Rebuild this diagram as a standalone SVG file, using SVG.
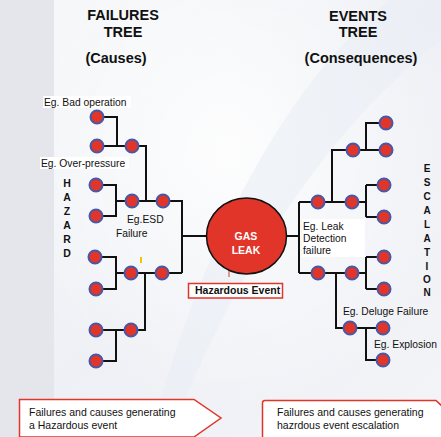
<svg xmlns="http://www.w3.org/2000/svg" width="441" height="437" viewBox="0 0 441 437">
<defs>
<linearGradient id="bg" x1="0" y1="0" x2="1" y2="1">
<stop offset="0" stop-color="#f7f8fa"/>
<stop offset="0.5" stop-color="#eef0f5"/>
<stop offset="1" stop-color="#f3f4f8"/>
</linearGradient>
<radialGradient id="glow" cx="0.45" cy="0.35" r="0.6">
<stop offset="0" stop-color="#ffffff" stop-opacity="0.9"/>
<stop offset="1" stop-color="#ffffff" stop-opacity="0"/>
</radialGradient>
</defs>
<style>
.ln{fill:none;stroke:#111;stroke-width:2}
.nd{fill:#e2352a;stroke:#4658a8;stroke-width:2}
.t{font-family:"Liberation Sans",Arial,sans-serif;fill:#111}
.b{font-weight:bold}
.lbg{fill:#ffffff}
</style>
<g id="background">
<rect x="0" y="0" width="441" height="437" fill="url(#bg)"/>
<rect x="0" y="0" width="54" height="437" fill="#e5e6ec"/>
<rect x="54" y="0" width="387" height="437" fill="url(#glow)"/>
<path d="M170 437 C210 330 300 150 441 40 L441 0 L390 0 C280 90 200 250 150 437 Z" fill="#e9eef5" opacity="0.6"/>
</g>
<g id="titles">
<text class="t b" x="123" y="20" font-size="14.5" text-anchor="middle">FAILURES</text>
<text class="t b" x="123" y="37" font-size="14.5" text-anchor="middle">TREE</text>
<text class="t b" x="116" y="63" font-size="14.5" text-anchor="middle">(Causes)</text>
<text class="t b" x="358" y="21" font-size="14.5" text-anchor="middle">EVENTS</text>
<text class="t b" x="358" y="37" font-size="14.5" text-anchor="middle">TREE</text>
<text class="t b" x="361" y="63" font-size="14.5" text-anchor="middle">(Consequences)</text>
</g>
<g id="connectors">
<path class="ln" d="M97 117 H117 V146 M97 146 H146 V201"/>
<path class="ln" d="M96 185 H116 V216 H96 M116 201 H182 V273"/>
<path class="ln" d="M95 257 H116 V289 H96 M116 273 H182"/>
<path class="ln" d="M145 273 V330 H96 M116 330 V361 H96"/>
<path class="ln" d="M182 236 H207"/>
<path class="ln" d="M286 236 H299 M299 202 V273"/>
<path class="ln" d="M299 202 H366 M366 185 V217 M366 185 H384 M366 217 H384"/>
<path class="ln" d="M332 202 V150 H386 M366 150 V123 H386"/>
<path class="ln" d="M299 273 H366 M366 257 V289 M366 257 H384 M366 289 H384"/>
<path class="ln" d="M336 273 V328 H383 M366 328 V360 H383"/>
<path d="M229 269 V277" stroke="#e2352a" stroke-width="1"/>
</g>
<g id="left-nodes">
<circle class="nd" cx="97" cy="117" r="6.5"/>
<circle class="nd" cx="97" cy="146" r="6.5"/>
<circle class="nd" cx="132" cy="146" r="6.5"/>
<circle class="nd" cx="96" cy="185" r="6.5"/>
<circle class="nd" cx="96" cy="216" r="6.5"/>
<circle class="nd" cx="132" cy="201" r="6.5"/>
<circle class="nd" cx="163" cy="201" r="6.5"/>
<circle class="nd" cx="95" cy="257" r="6.5"/>
<circle class="nd" cx="96" cy="289" r="6.5"/>
<circle class="nd" cx="131" cy="273" r="6.5"/>
<circle class="nd" cx="162" cy="273" r="6.5"/>
<circle class="nd" cx="131" cy="330" r="6.5"/>
<circle class="nd" cx="96" cy="330" r="6.5"/>
<circle class="nd" cx="96" cy="361" r="6.5"/>
</g>
<g id="right-nodes">
<circle class="nd" cx="318" cy="202" r="6.5"/>
<circle class="nd" cx="352" cy="202" r="6.5"/>
<circle class="nd" cx="384" cy="185" r="6.5"/>
<circle class="nd" cx="384" cy="217" r="6.5"/>
<circle class="nd" cx="353" cy="150" r="6.5"/>
<circle class="nd" cx="386" cy="123" r="6.5"/>
<circle class="nd" cx="386" cy="150" r="6.5"/>
<circle class="nd" cx="318" cy="273" r="6.5"/>
<circle class="nd" cx="352" cy="273" r="6.5"/>
<circle class="nd" cx="384" cy="257" r="6.5"/>
<circle class="nd" cx="384" cy="289" r="6.5"/>
<circle class="nd" cx="350" cy="328" r="6.5"/>
<circle class="nd" cx="383" cy="328" r="6.5"/>
<circle class="nd" cx="383" cy="360" r="6.5"/>
</g>
<g id="gas-leak">
<ellipse cx="246.5" cy="236" rx="40" ry="38" fill="#e2352a" stroke="#111" stroke-width="1.5"/>
<text class="t b" x="246" y="240" font-size="10.5" text-anchor="middle" style="fill:#ffffff">GAS</text>
<text class="t b" x="246" y="254" font-size="10.5" text-anchor="middle" style="fill:#ffffff">LEAK</text>
</g>
<g id="hazardous-event">
<rect x="188.5" y="283.5" width="94" height="14.5" fill="#ffffff" stroke="#e2352a" stroke-width="1.5"/>
<text class="t b" x="195" y="294" font-size="10.5">Hazardous Event</text>
</g>
<g id="labels">
<rect class="lbg" x="43" y="96" width="88" height="12"/>
<text class="t" x="44" y="106" font-size="10.3">Eg. Bad operation</text>
<rect class="lbg" x="40" y="157" width="89" height="12"/>
<text class="t" x="41" y="167" font-size="10.3">Eg. Over-pressure</text>
<text class="t" x="127" y="223" font-size="10.3">Eg.ESD</text>
<text class="t" x="116" y="237" font-size="10.3">Failure</text>
<rect x="140" y="257" width="2" height="6" fill="#f5c400"/>
<rect class="lbg" x="302" y="219" width="63" height="38"/>
<text class="t" x="303" y="230" font-size="10.3">Eg. Leak</text>
<text class="t" x="303" y="242" font-size="10.3">Detection</text>
<text class="t" x="303" y="254" font-size="10.3">failure</text>
<text class="t" x="343" y="315" font-size="10.3">Eg. Deluge Failure</text>
<text class="t" x="374" y="348" font-size="10.3">Eg. Explosion</text>
</g>
<g id="hazard-vertical">
<text class="t b" font-size="10.5" text-anchor="middle" x="67">
<tspan x="67" y="187">H</tspan><tspan x="67" y="201">A</tspan><tspan x="67" y="215">Z</tspan><tspan x="67" y="229">A</tspan><tspan x="67" y="243">R</tspan><tspan x="67" y="257">D</tspan>
</text>
</g>
<g id="escalation-vertical">
<text class="t b" font-size="10" text-anchor="middle" x="427">
<tspan x="427" y="172">E</tspan><tspan x="427" y="186">S</tspan><tspan x="427" y="200">C</tspan><tspan x="427" y="214">A</tspan><tspan x="427" y="228">L</tspan><tspan x="427" y="242">A</tspan><tspan x="427" y="256">T</tspan><tspan x="427" y="270">I</tspan><tspan x="427" y="283">O</tspan><tspan x="427" y="296">N</tspan>
</text>
</g>
<g id="box-left">
<path d="M19.5 399.5 H194 L221 418 L194 437 H19.5 Z" fill="#ffffff" stroke="#e2352a" stroke-width="1.5"/>
<text class="t" x="29" y="416" font-size="10.5">Failures and causes generating</text>
<text class="t" x="29" y="429" font-size="10.5">a Hazardous event</text>
</g>
<g id="box-right">
<path d="M262.5 437 V403 Q262.5 400.5 265 400.5 H436 L443 407 V437" fill="#ffffff" stroke="#e2352a" stroke-width="1.5"/>
<text class="t" x="277" y="416" font-size="10.5">Failures and causes generating</text>
<text class="t" x="277" y="429" font-size="10.5">hazrdous event escalation</text>
</g>
</svg>
